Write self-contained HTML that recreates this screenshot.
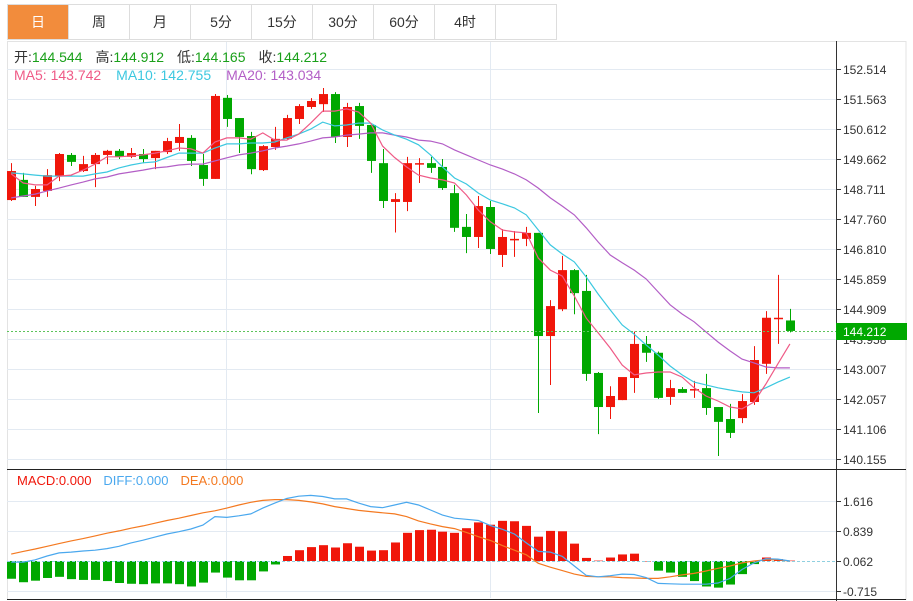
<!DOCTYPE html>
<html><head><meta charset="utf-8">
<style>
body{margin:0;background:#fff;width:913px;height:601px;overflow:hidden;font-family:"Liberation Sans","Noto Sans CJK SC",sans-serif}
#tabs{position:absolute;left:7px;top:4px;height:36px;display:flex;border:1px solid #ddd;border-right:none;box-sizing:border-box}
.tab{width:61px;height:34px;line-height:34px;text-align:center;font-size:14px;color:#333;border-right:1px solid #ddd;box-sizing:border-box}
.tab.on{background:#f28c3c;color:#fff}
svg{position:absolute;left:0;top:0}
</style></head><body>
<div id="tabs">
<div class="tab on">日</div>
<div class="tab">周</div>
<div class="tab">月</div>
<div class="tab">5分</div>
<div class="tab">15分</div>
<div class="tab">30分</div>
<div class="tab">60分</div>
<div class="tab">4时</div>
<div class="tab"></div>
</div>
<svg id="chart" width="913" height="601"></svg>
<script>
const openV=[148.36,149.00,148.46,148.65,149.12,149.79,149.28,149.50,149.79,149.92,149.73,149.82,149.69,149.88,150.17,150.33,149.47,149.03,151.60,150.96,150.39,149.31,150.04,150.30,150.93,151.31,151.40,151.72,150.36,151.34,150.74,149.53,148.30,148.30,149.50,149.53,149.41,148.58,147.51,147.19,148.14,146.62,147.11,147.13,147.32,144.05,144.90,146.14,145.48,142.88,141.80,142.02,142.72,143.80,143.52,142.12,142.37,142.36,142.40,141.80,141.42,141.45,141.96,143.17,144.61,144.544];
const highV=[149.53,149.22,148.81,149.34,149.85,149.85,149.76,149.85,149.95,149.98,150.01,149.98,149.92,150.33,150.77,150.42,149.82,151.72,151.69,150.96,150.52,150.10,150.68,151.06,151.40,151.59,151.91,151.78,151.44,151.44,150.77,149.98,148.58,149.73,149.69,149.73,149.66,148.84,147.92,148.49,148.33,147.44,147.38,147.51,147.32,145.19,146.59,146.17,145.99,142.91,142.46,142.72,144.19,144.05,143.56,142.66,142.43,142.63,142.85,141.80,141.90,142.21,143.73,144.84,145.99,144.912];
const lowV=[148.33,148.46,148.17,148.46,148.96,149.44,149.25,148.77,149.50,149.66,149.69,149.53,149.34,149.82,149.92,149.44,148.81,149.03,150.68,149.85,149.18,149.28,149.95,150.26,150.77,151.25,151.15,150.17,150.04,150.30,149.22,148.11,147.33,148.01,148.90,149.22,148.68,147.35,146.68,146.84,146.65,146.24,146.56,146.90,141.61,142.50,144.84,144.74,142.63,140.94,141.42,142.02,142.25,143.23,142.06,141.87,142.25,142.09,141.55,140.25,140.82,141.29,141.87,142.85,143.80,144.165];
const closeV=[149.28,148.46,148.71,149.15,149.82,149.57,149.50,149.79,149.92,149.73,149.85,149.66,149.92,150.23,150.36,149.60,149.03,151.66,150.93,150.36,149.34,150.07,150.30,150.96,151.34,151.50,151.72,150.36,151.31,150.71,149.60,148.33,148.39,149.53,149.53,149.38,148.74,147.48,147.19,148.17,146.81,147.19,147.13,147.32,144.05,145.00,146.14,145.41,142.85,141.80,142.15,142.75,143.80,143.52,142.09,142.40,142.25,142.37,141.77,141.33,140.98,141.99,143.29,144.63,144.63,144.212];
const ma5=[149.19,148.90,148.84,148.84,149.12,149.15,149.31,149.50,149.73,149.73,149.76,149.79,149.85,149.92,150.01,149.98,149.85,150.20,150.33,150.33,150.29,150.49,150.26,150.26,150.45,150.80,151.18,151.18,151.25,151.15,150.80,150.07,149.71,149.41,149.15,149.06,149.00,148.90,148.52,148.04,147.67,147.41,147.35,147.32,146.52,146.14,145.95,145.32,144.62,144.15,143.67,143.13,142.82,142.88,142.91,142.91,142.75,142.41,142.15,141.99,141.80,141.74,141.96,142.53,143.17,143.80];
const ma10=[149.22,149.19,149.15,149.12,149.12,149.12,149.12,149.19,149.25,149.38,149.47,149.54,149.57,149.71,149.85,149.85,149.85,150.01,150.14,150.14,150.17,150.17,150.20,150.33,150.45,150.61,150.83,150.71,150.74,150.80,150.80,150.58,150.42,150.29,150.11,149.79,149.41,149.06,148.87,148.58,148.36,148.24,148.11,147.89,147.41,146.94,146.65,146.40,145.92,145.38,144.88,144.40,144.11,143.77,143.45,143.10,142.82,142.59,142.50,142.41,142.34,142.28,142.25,142.41,142.59,142.75];
const ma20=[148.43,148.49,148.55,148.65,148.74,148.84,148.93,149.03,149.09,149.19,149.25,149.31,149.38,149.41,149.47,149.50,149.50,149.60,149.70,149.79,149.85,149.92,150.01,150.07,150.14,150.23,150.33,150.36,150.42,150.45,150.49,150.49,150.42,150.36,150.26,150.23,150.14,149.95,149.79,149.63,149.47,149.34,149.19,149.00,148.74,148.43,148.17,147.89,147.48,147.03,146.62,146.37,146.14,145.86,145.45,145.04,144.75,144.50,144.18,143.86,143.58,143.32,143.20,143.07,143.04,143.04];
const macdV=[-0.46,-0.55,-0.51,-0.44,-0.41,-0.47,-0.49,-0.49,-0.52,-0.57,-0.59,-0.60,-0.58,-0.58,-0.60,-0.66,-0.56,-0.30,-0.43,-0.50,-0.50,-0.27,-0.09,0.13,0.28,0.36,0.41,0.35,0.46,0.37,0.27,0.28,0.48,0.73,0.80,0.81,0.76,0.73,0.85,1.00,0.94,1.04,1.03,0.91,0.63,0.78,0.77,0.45,0.08,0.01,0.09,0.17,0.19,0.00,-0.25,-0.30,-0.41,-0.52,-0.66,-0.69,-0.61,-0.34,-0.08,0.09,0.05,0.01];
const diffV=[-0.03,-0.03,0.03,0.13,0.21,0.23,0.26,0.28,0.32,0.38,0.47,0.54,0.62,0.70,0.76,0.83,0.93,1.15,1.13,1.17,1.22,1.37,1.50,1.62,1.68,1.70,1.67,1.61,1.61,1.50,1.41,1.38,1.45,1.52,1.45,1.32,1.19,1.11,1.08,1.05,0.92,0.82,0.70,0.47,0.25,0.23,0.12,-0.13,-0.37,-0.41,-0.38,-0.34,-0.35,-0.43,-0.58,-0.59,-0.60,-0.60,-0.60,-0.57,-0.45,-0.22,-0.05,0.06,0.05,0.00];
const deaV=[0.18,0.25,0.31,0.38,0.45,0.52,0.58,0.65,0.72,0.78,0.85,0.91,0.98,1.05,1.11,1.18,1.25,1.30,1.37,1.45,1.52,1.57,1.59,1.59,1.57,1.53,1.48,1.41,1.36,1.31,1.28,1.25,1.22,1.15,1.04,0.96,0.89,0.84,0.74,0.63,0.53,0.40,0.28,0.16,-0.06,-0.16,-0.25,-0.34,-0.40,-0.41,-0.41,-0.43,-0.44,-0.45,-0.45,-0.41,-0.36,-0.32,-0.26,-0.19,-0.13,-0.05,0.00,0.03,0.03,0.00];
const priceTicks=[152.514,151.563,150.612,149.662,148.711,147.760,146.810,145.859,144.909,143.958,143.007,142.057,141.106,140.155];
const macdTickVals=[1.554,0.777,0,-0.777];
const macdTickLabels=['1.616','0.839','0.062','-0.715'];
const lastPrice=144.212;

const NS='http://www.w3.org/2000/svg';
const svg=document.getElementById('chart');
const X0=7,X1=836,PR=906;
const xAt=i=>11.2+11.98*i;
const yP=p=>69+(152.514-p)/0.95085*30;
const yM=v=>561-v*38.6;
const RED='#f0160a',GREEN='#00a800';
function el(tag,attrs,parent){const e=document.createElementNS(NS,tag);for(const k in attrs)e.setAttribute(k,attrs[k]);(parent||svg).appendChild(e);return e;}
function txt(x,y,s,fill,size,anchor,parent){const t=el('text',{x:x,y:y,fill:fill,'font-size':size,'text-anchor':anchor||'start','font-family':'"Liberation Sans","Noto Sans CJK SC",sans-serif'},parent);t.textContent=s;return t;}

const frame=el('rect',{x:7.5,y:41.5,width:PR-7.5,height:558,fill:'none',stroke:'#e3e3e3'});


[226.5,490.5].forEach(gx=>{const g=el('line',{x1:gx,x2:gx,y1:42,y2:598,stroke:'#e3eaf2'});

});
const pAxis=el('g',{});


priceTicks.forEach(p=>{const y=Math.round(yP(p))+0.5;
const g=el('line',{x1:X0,x2:X1,y1:y,y2:y,stroke:'#e3eaf2'},pAxis);


el('line',{x1:X1,x2:X1+5,y1:y,y2:y,stroke:'#333'},pAxis);
const t=txt(X1+7,y+4.5,p.toFixed(3),'#333',12,'start',pAxis);

});
const mAxis=el('g',{});


macdTickVals.forEach((v,i)=>{const y=Math.round(yM(v))+0.5;
if(v!==0){const g=el('line',{x1:X0,x2:X1,y1:y,y2:y,stroke:'#e3eaf2'},mAxis);

}
el('line',{x1:X1,x2:X1+5,y1:y,y2:y,stroke:'#333'},mAxis);
const t=txt(X1+7,y+4.5,macdTickLabels[i],'#333',12,'start',mAxis);

});
el('line',{x1:X1+0.5,x2:X1+0.5,y1:41,y2:601,stroke:'#333'});
el('line',{x1:7,x2:PR,y1:469.5,y2:469.5,stroke:'#222'});
el('line',{x1:7,x2:PR,y1:599.5,y2:599.5,stroke:'#222'});

const cg=el('g',{});


openV.forEach((o,i)=>{const c=closeV[i],x=Math.round(xAt(i));const up=c>=o;const col=up?RED:GREEN;
const g=el('g',{},cg);


el('line',{x1:x+0.5,x2:x+0.5,y1:yP(highV[i]),y2:yP(lowV[i]),stroke:col,'stroke-width':1},g);
const top=yP(Math.max(o,c)),h=Math.max(1.5,Math.abs(yP(o)-yP(c)));
el('rect',{x:x-4,y:top,width:9,height:h,fill:col},g);});

function line(arr,sc,col,name,parent){const d=arr.map((v,i)=>(i?'L':'M')+xAt(i).toFixed(1)+' '+sc(v).toFixed(1)).join(' ');
const p=el('path',{d:d,fill:'none',stroke:col,'stroke-width':1.2},parent);

}
line(ma20,yP,'#b35ec6','ma20-line');
line(ma10,yP,'#3cc8e0','ma10-line');
line(ma5,yP,'#ef5a86','ma5-line');

const ly=Math.round(yP(lastPrice))+0.5;
const lp=el('line',{x1:X0,x2:X1,y1:ly,y2:ly,stroke:'#5cc45c','stroke-dasharray':'2,2'});


const lb=el('rect',{x:X1,y:ly-8.5,width:PR-X1+1,height:17,fill:GREEN});


txt(X1+7,ly+4.5,lastPrice.toFixed(3),'#fff',12);

const hg=el('g',{});


macdV.forEach((v,i)=>{const x=Math.round(xAt(i));const y0=yM(0),y1=yM(v);
const r=el('rect',{x:x-4,y:Math.min(y0,y1),width:9,height:Math.max(0.5,Math.abs(y1-y0)),fill:v>=0?RED:GREEN},hg);

});
el('line',{x1:X0,x2:X1,y1:561.5,y2:561.5,stroke:'#8fd0e0','stroke-dasharray':'3,2'});
line(deaV,yM,'#f47920','dea-line');
line(diffV,yM,'#4aa8ee','diff-line');

const lg=el('text',{x:14,y:62,'font-size':14,'font-family':'"Liberation Sans","Noto Sans CJK SC",sans-serif'});


lg.innerHTML='<tspan fill="#333">开:</tspan><tspan fill="#1aa01a">144.544</tspan><tspan fill="#333" dx="13">高:</tspan><tspan fill="#1aa01a">144.912</tspan><tspan fill="#333" dx="13">低:</tspan><tspan fill="#1aa01a">144.165</tspan><tspan fill="#333" dx="13">收:</tspan><tspan fill="#1aa01a">144.212</tspan>';
const ml=el('text',{x:14,y:80,'font-size':14,'font-family':'"Liberation Sans",sans-serif'});


ml.innerHTML='<tspan fill="#ef5a86">MA5: 143.742</tspan><tspan fill="#3cc8e0" dx="15">MA10: 142.755</tspan><tspan fill="#b35ec6" dx="15">MA20: 143.034</tspan>';
const mcl=el('text',{x:17,y:485,'font-size':13,'font-family':'"Liberation Sans",sans-serif'});


mcl.innerHTML='<tspan fill="#f0160a">MACD:0.000</tspan><tspan fill="#4aa8ee" dx="12">DIFF:0.000</tspan><tspan fill="#f47920" dx="12">DEA:0.000</tspan>';
</script>
</body></html>
